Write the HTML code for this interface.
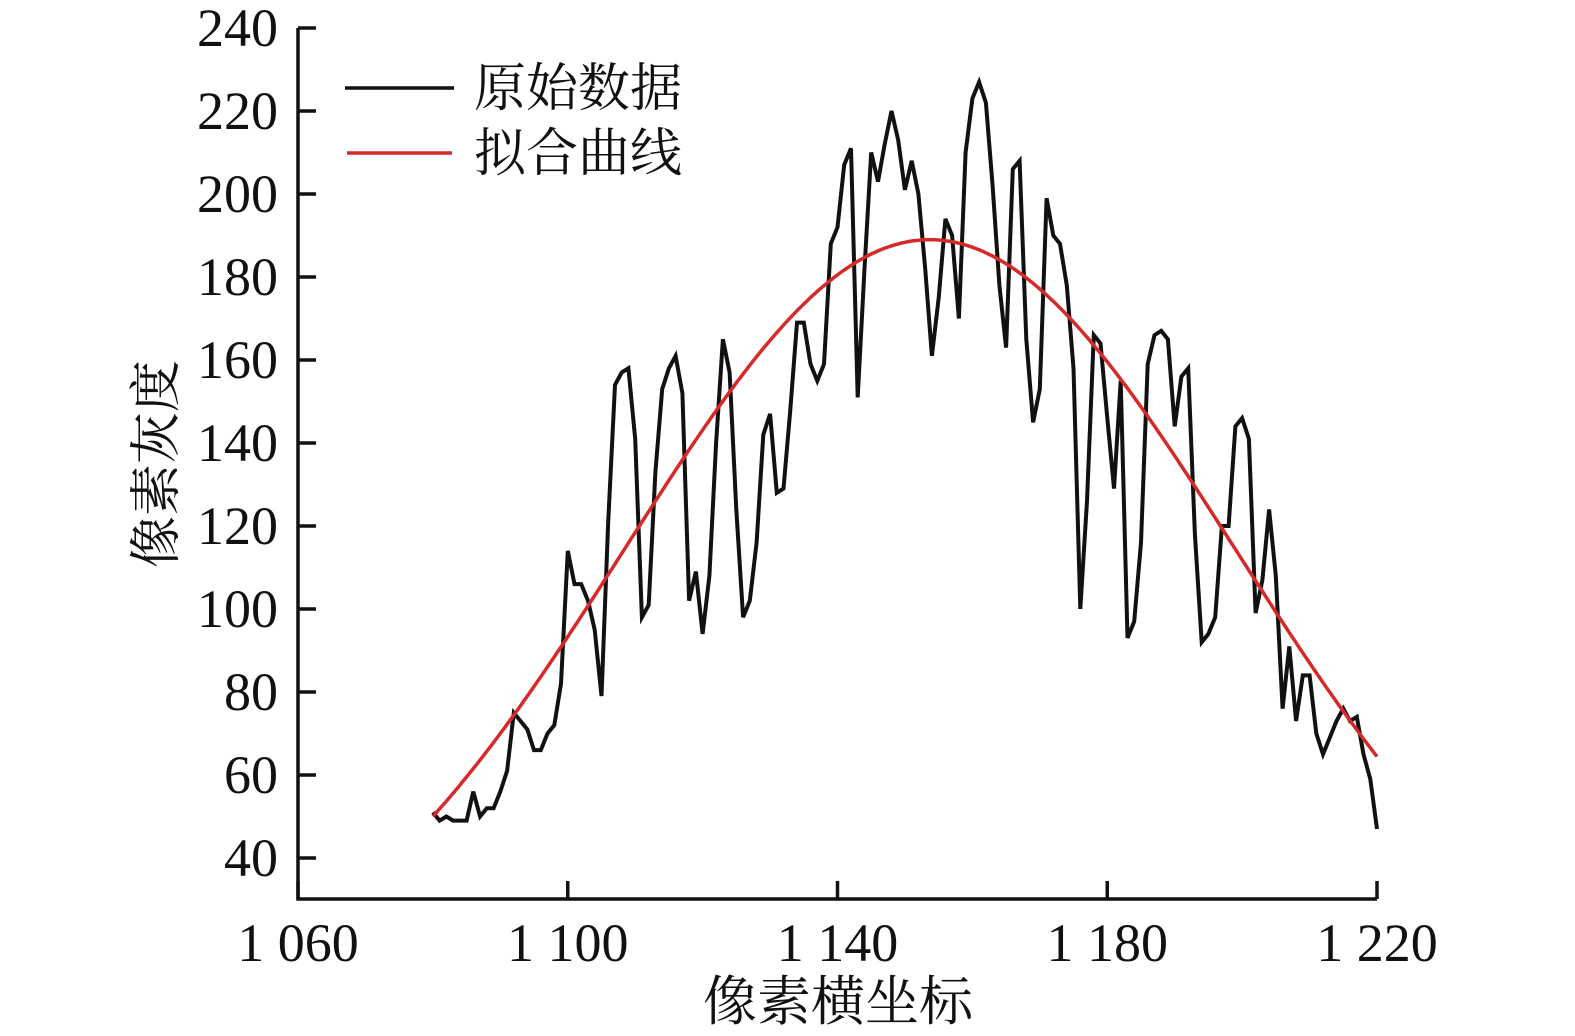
<!DOCTYPE html>
<html><head><meta charset="utf-8"><style>
html,body{margin:0;padding:0;background:#fff}
svg{display:block}
text{font-family:"Liberation Serif","Noto Serif CJK SC",serif;fill:#111}
.cjk{font-family:"Liberation Serif","Noto Serif CJK SC","Noto Sans CJK SC",serif}
</style></head><body>
<svg id="chart" width="1575" height="1036" viewBox="0 0 1575 1036" xmlns="http://www.w3.org/2000/svg">
<g id="axes"></g>
<g id="series"></g>
<g id="legend">
<line x1="345" y1="88" x2="454" y2="88" stroke="#111" stroke-width="3.5"/>
<text class="cjk" x="474" y="106" font-size="52">原始数据</text>
<line x1="347" y1="153" x2="452" y2="153" stroke="#d42a2a" stroke-width="3.5"/>
<text class="cjk" x="474" y="171" font-size="52">拟合曲线</text>
</g>
<text class="cjk" x="838" y="1020" font-size="54" text-anchor="middle">像素横坐标</text>
<text class="cjk" transform="translate(174,464) rotate(-90)" font-size="52" text-anchor="middle">像素灰度</text>
</svg>
<script>
const xTicks=[1060,1100,1140,1180,1220];
const xTickLabels=["1 060","1 100","1 140","1 180","1 220"];
const yTicks=[40,60,80,100,120,140,160,180,200,220,240];
const rawX0=1080;
const rawY=[51,49,50,49,49,49,56,50,52,52,56,61,75,73,71,66,66,70,72,82,
114,106,106,102,95,79,121,154,157,158,141,98,101,133,153,158,161,152,102,109,
94,108,140,165,157,124,98,102,116,142,147,128,129,148,169,169,159,155,159,188,
192,207,211,151,182,210,203,212,220,213,201,208,200,182,161,175,194,190,170,210,
223,227,222,202,178,163,206,208,165,145,153,199,190,188,178,158,100,126,166,164,
146,129,155,93,97,116,159,166,167,165,144,156,158,118,92,94,98,120,120,144,
146,141,99,107,124,108,76,91,73,84,84,70,65,69,73,76,73,74,65,59,47];
const fitAmp=[189];
const fitCenter=[1153.7];
const fitSigma=[45.2];
const fitRange=[1080,1220];

const NS="http://www.w3.org/2000/svg";
const X0=298,X1=1377,Y0=899;
function sx(v){return X0+(v-1060)*(X1-X0)/160;}
function sy(v){return 28+(240-v)*(858-28)/200;}
function mk(tag,attrs,parent){const e=document.createElementNS(NS,tag);for(const k in attrs)e.setAttribute(k,attrs[k]);parent.appendChild(e);return e;}
const axes=document.getElementById('axes');
let a=mk('path',{d:`M${X0},${sy(240)} V${Y0} H${X1}`,fill:'none',stroke:'#111','stroke-width':3.5},axes);


yTicks.forEach(v=>{
 const t=mk('line',{x1:X0,x2:X0+18,y1:sy(v),y2:sy(v),stroke:'#111','stroke-width':3.5},axes);
 
 
 const l=mk('text',{x:278,y:sy(v)+18,'font-size':54,'text-anchor':'end'},axes);
 l.textContent=v;
 
 
});
xTicks.forEach((v,i)=>{
 const t=mk('line',{x1:sx(v),x2:sx(v),y1:Y0,y2:Y0-18,stroke:'#111','stroke-width':3.5},axes);
 
 
 const l=mk('text',{x:sx(v),y:961,'font-size':54,'text-anchor':'middle'},axes);
 l.textContent=xTickLabels[i];
 
 
});
const series=document.getElementById('series');
let fd='';
for(let x=fitRange[0];x<=fitRange[1];x+=0.5){
 const y=fitAmp[0]*Math.exp(-Math.pow(x-fitCenter[0],2)/(2*fitSigma[0]*fitSigma[0]));
 fd+=(fd?'L':'M')+sx(x).toFixed(1)+','+sy(y).toFixed(1);
}
let rd='';
rawY.forEach((v,i)=>{rd+=(i?'L':'M')+sx(rawX0+i).toFixed(1)+','+sy(v).toFixed(1);});
const raw=mk('path',{d:rd,fill:'none',stroke:'#111','stroke-width':4,'stroke-linejoin':'miter'},series);


const fit=mk('path',{d:fd,fill:'none',stroke:'#d42a2a','stroke-width':3.5},series);


</script>
</body></html>
